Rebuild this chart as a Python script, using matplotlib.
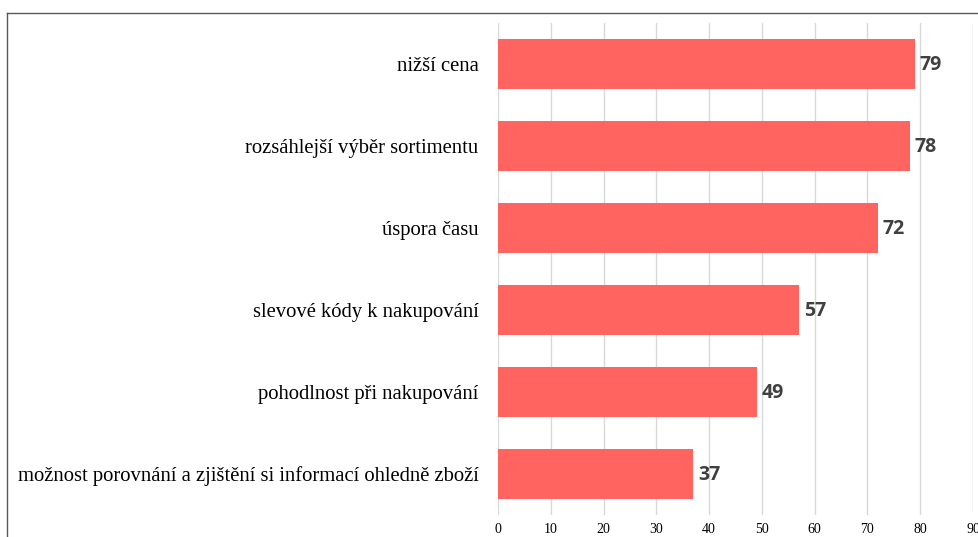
import matplotlib.pyplot as plt
from matplotlib.lines import Line2D

categories = [
    "nižší cena",
    "rozsáhlejší výběr sortimentu",
    "úspora času",
    "slevové kódy k nakupování",
    "pohodlnost při nakupování",
    "možnost porovnání a zjištění si informací ohledně zboží",
]
values = [79, 78, 72, 57, 49, 37]
xticks = list(range(0, 100, 10))

bar_color = "#FF6461"
label_color = "#404040"

fig = plt.figure(figsize=(9.79, 5.37), dpi=100)
ax = fig.add_axes([0.5087, 0.041, 0.4852, 0.916])

pos = list(range(len(categories)))[::-1]
ax.barh(pos, values, height=0.6, color=bar_color, zorder=2)
for p, v in zip(pos, values):
    ax.annotate(str(v), (v, p), xytext=(3.5, -1), textcoords="offset points",
                va="center", ha="left", fontsize=14, fontweight="bold",
                family="Open Sans", color=label_color)

ax.set_xlim(0, 90)
ax.set_ylim(-0.5, len(categories) - 0.5)
ax.set_xticks(xticks)
ax.set_xticklabels([str(t) for t in xticks], family="Liberation Serif", fontsize=10)
ax.set_yticks(pos)
ax.set_yticklabels(categories, family="Liberation Serif", fontsize=14.9)
ax.tick_params(axis="y", length=0, pad=14)
ax.tick_params(axis="x", length=0, pad=6)
ax.grid(axis="x", color="#D9D9D9", linewidth=1, zorder=0)
for s in ax.spines.values():
    s.set_visible(False)

# outer chart border (left and top edges)
fig.add_artist(Line2D([7 / 979, 7 / 979], [0, 1 - 13 / 537], color="#595959", linewidth=1))
fig.add_artist(Line2D([7 / 979, 1], [1 - 13 / 537, 1 - 13 / 537], color="#595959", linewidth=1))

fig.savefig("out.png", dpi=100)
